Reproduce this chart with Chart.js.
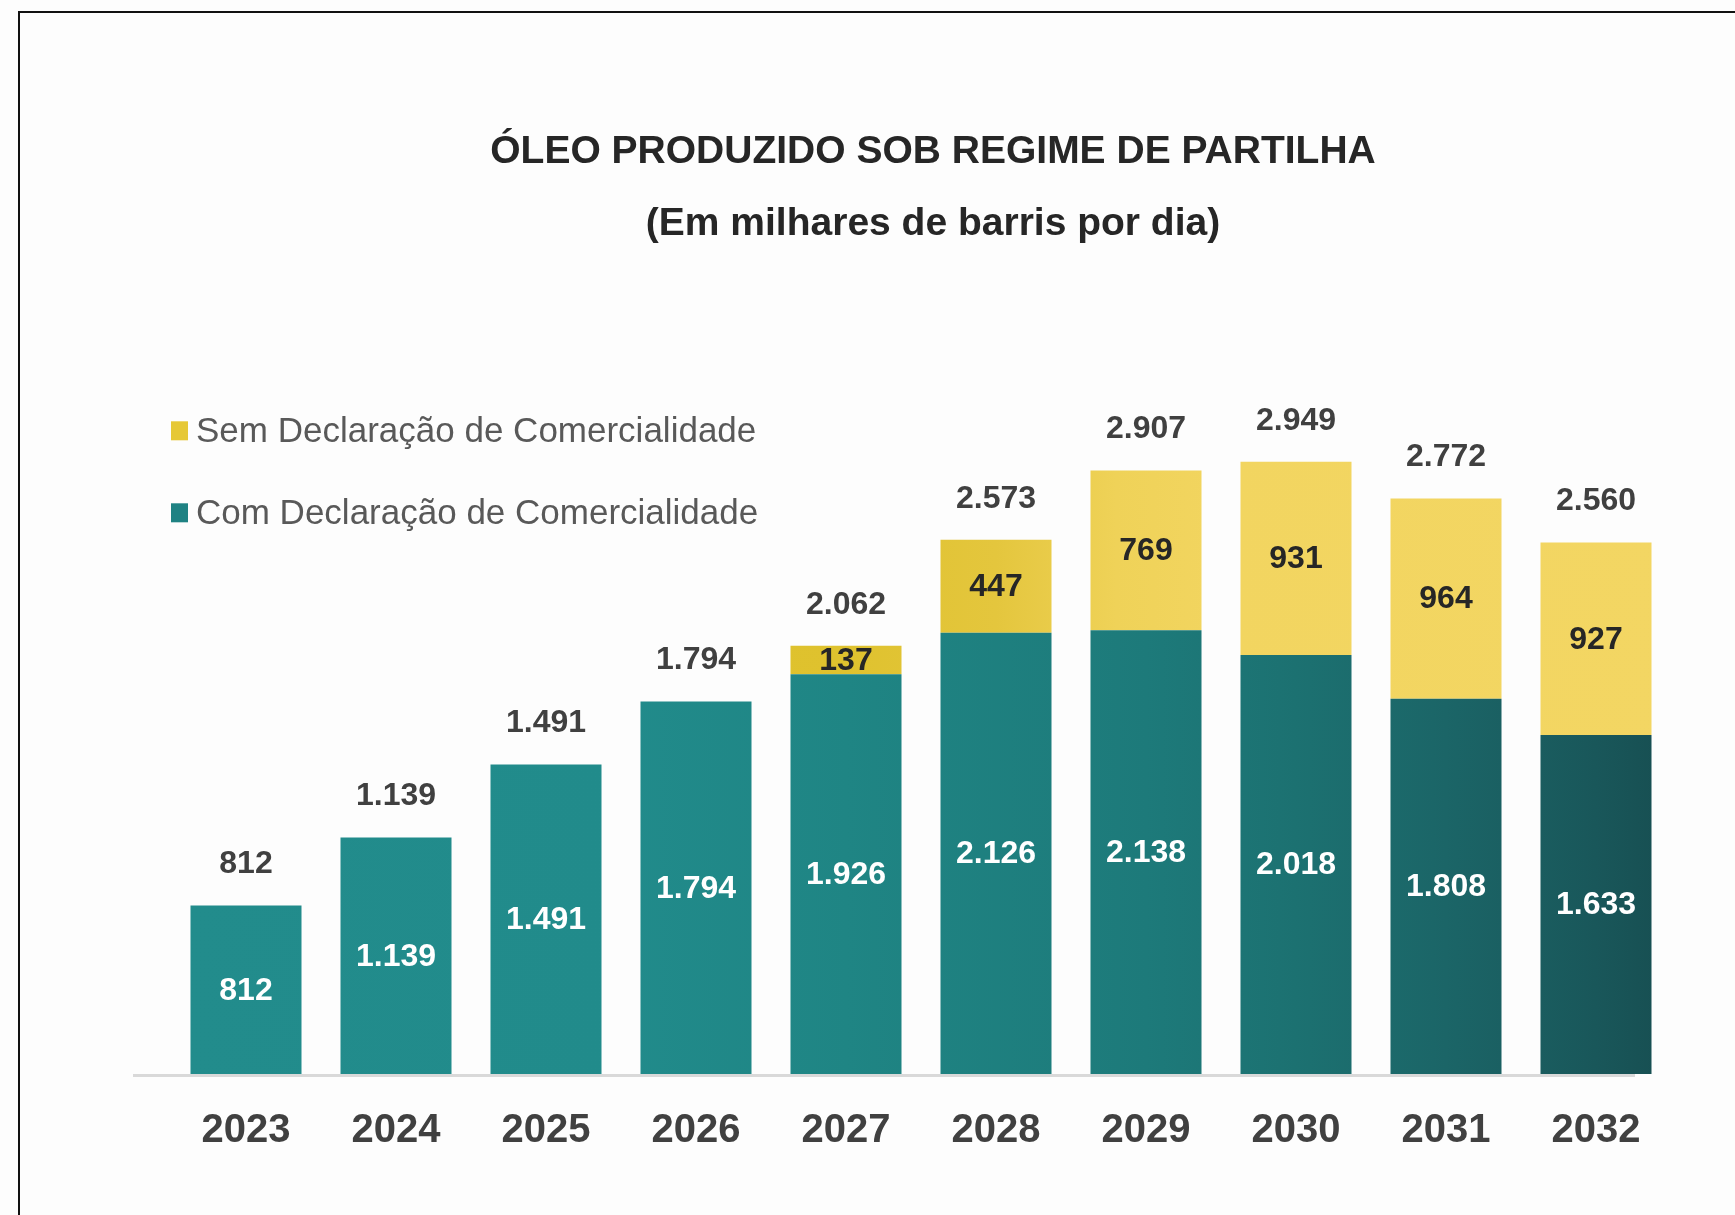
<!DOCTYPE html>
<html>
<head>
<meta charset="utf-8">
<script src="https://cdn.jsdelivr.net/npm/chart.js@4/dist/chart.umd.min.js"></script>
<style>
  html, body { margin: 0; padding: 0; background: #fdfdfd; }
  #wrap { position: relative; width: 1735px; height: 1215px; overflow: hidden; }
  #frame { position: absolute; left: 18px; top: 11px; right: -10px; bottom: -10px;
           border-top: 2px solid #111; border-left: 2px solid #111; pointer-events: none; }
  canvas { position: absolute; left: 0; top: 0; }
</style>
</head>
<body>
<div id="wrap">
  <canvas id="chart" width="1735" height="1215"></canvas>
  <div id="frame"></div>
</div>
<script>
// --- dados (milhares de barris por dia) ---
const years = ['2023', '2024', '2025', '2026', '2027', '2028', '2029', '2030', '2031', '2032'];
const comDeclaracao = [812, 1139, 1491, 1794, 1926, 2126, 2138, 2018, 1808, 1633];
const semDeclaracao = [0, 0, 0, 0, 137, 447, 769, 931, 964, 927];
const totais = [812, 1139, 1491, 1794, 2062, 2573, 2907, 2949, 2772, 2560];

const titleLines = ['ÓLEO PRODUZIDO SOB REGIME DE PARTILHA', '(Em milhares de barris por dia)'];

const FONT = "'Liberation Sans', Arial, sans-serif";

// gradientes horizontais (da esquerda p/ direita do gráfico)
const tealStops = [[0, '#228c8c'], [0.3, '#218b8b'], [0.45, '#1f8584'], [0.65, '#1d7a7a'],
                   [0.75, '#1c7171'], [0.85, '#1b6567'], [0.95, '#19575a'], [1, '#174e51']];
const goldStops = [[0, '#dcbf28'], [0.45, '#dfc22e'], [0.55, '#e4c63d'], [0.63, '#efd258'],
                   [0.7, '#f2d560'], [1, '#f3d663']];

function fmt(n) {
    return String(n).replace(/\B(?=(\d{3})+(?!\d))/g, '.');
}

function makeGradient(stops) {
    return (context) => {
        const chart = context.chart;
        const area = chart.chartArea;
        if (!area) return stops[0][1];
        const g = chart.ctx.createLinearGradient(area.left, 0, area.right, 0);
        stops.forEach(s => g.addColorStop(s[0], s[1]));
        return g;
    };
}

// linha de base cinza
const baseLinePlugin = {
    id: 'baseLine',
    beforeDatasetsDraw(chart) {
        const {ctx, chartArea} = chart;
        const y = chart.scales.y.getPixelForValue(0) + 1.5;
        ctx.save();
        ctx.strokeStyle = '#d9d9d9';
        ctx.lineWidth = 3;
        ctx.beginPath();
        ctx.moveTo(chartArea.left - 38, y);
        ctx.lineTo(chartArea.right - 36, y);
        ctx.stroke();
        ctx.restore();
    }
};

// rótulos dentro das barras e totais acima
const labelsPlugin = {
    id: 'valueLabels',
    afterDatasetsDraw(chart) {
        const ctx = chart.ctx;
        ctx.save();
        ctx.textAlign = 'center';
        ctx.textBaseline = 'middle';
        ctx.font = "bold 32px " + FONT;
        chart.data.datasets.forEach((ds, di) => {
            const meta = chart.getDatasetMeta(di);
            meta.data.forEach((bar, i) => {
                const v = ds.data[i];
                if (!v) return;
                ctx.fillStyle = di === 0 ? '#ffffff' : '#262626';
                ctx.fillText(fmt(v), bar.x, (bar.y + bar.base) / 2 + 1);
            });
        });
        const top = chart.getDatasetMeta(1).data;
        const bottom = chart.getDatasetMeta(0).data;
        ctx.fillStyle = '#404040';
        totais.forEach((t, i) => {
            const y = Math.min(top[i].y, bottom[i].y);
            ctx.fillText(fmt(t), bottom[i].x, y - 41);
        });
        ctx.restore();
    }
};

// legenda dentro da área do gráfico, canto superior esquerdo
const legendPlugin = {
    id: 'innerLegend',
    afterDraw(chart) {
        const {ctx, chartArea} = chart;
        const items = [chart.data.datasets[1], chart.data.datasets[0]];
        const boxColors = ['#e6c836', '#1f8283'];
        ctx.save();
        ctx.font = "35px " + FONT;
        ctx.textBaseline = 'middle';
        ctx.textAlign = 'left';
        items.forEach((ds, k) => {
            const cy = chartArea.top + 33 + k * 82;
            ctx.fillStyle = boxColors[k];
            ctx.fillRect(chartArea.left, cy - 11, 17, 19);
            ctx.fillStyle = '#595959';
            ctx.fillText(ds.label, chartArea.left + 25, cy);
        });
        ctx.restore();
    }
};

new Chart(document.getElementById('chart'), {
    type: 'bar',
    data: {
        labels: years,
        datasets: [
            {
                label: 'Com Declaração de Comercialidade',
                data: comDeclaracao,
                backgroundColor: makeGradient(tealStops),
                categoryPercentage: 1,
                barPercentage: 0.74
            },
            {
                label: 'Sem Declaração de Comercialidade',
                data: semDeclaracao,
                backgroundColor: makeGradient(goldStops),
                categoryPercentage: 1,
                barPercentage: 0.74
            }
        ]
    },
    options: {
        responsive: false,
        devicePixelRatio: 1,
        animation: false,
        layout: { padding: { left: 171, right: 40, top: 0, bottom: 27 } },
        scales: {
            x: {
                stacked: true,
                grid: { display: false, drawTicks: false },
                border: { display: false },
                ticks: { color: '#404040', padding: 33, font: { family: FONT, size: 40, weight: 'bold' } }
            },
            y: {
                stacked: true, display: false, position: 'right', min: 0, max: 3250,
                // espaço vazio à direita para centralizar o título como no original
                afterFit(scale) { scale.width = 24; }
            }
        },
        plugins: {
            legend: { display: false },
            tooltip: { enabled: false },
            title: {
                display: true,
                text: titleLines,
                color: '#262626',
                padding: { top: 116, bottom: 139 },
                font: { family: FONT, size: 39, weight: 'bold', lineHeight: 1.85 }
            }
        }
    },
    plugins: [baseLinePlugin, labelsPlugin, legendPlugin]
});
</script>
</body>
</html>
